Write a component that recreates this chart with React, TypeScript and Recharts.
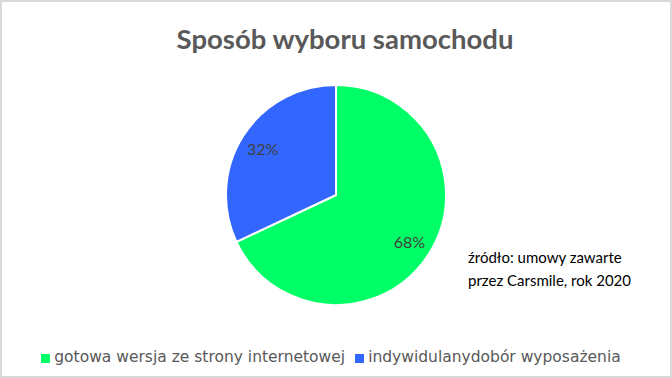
import React from 'react';
import { PieChart, Pie, Cell, Legend } from 'recharts';

const categories = ['gotowa wersja ze strony internetowej', 'indywidulanydobór wyposażenia'];
const shares = [68, 32];
const colors = ['#00FF66', '#3366FF'];

const data = categories.map((name, i) => ({ name, value: shares[i] }));

const RAD = Math.PI / 180;

const renderLabel = (props: any) => {
  const { cx, cy, midAngle, outerRadius, value } = props;
  const r = outerRadius * 0.79;
  const x = cx + r * Math.cos(-midAngle * RAD);
  const y = cy + r * Math.sin(-midAngle * RAD);
  return (
    <text
      x={x}
      y={y}
      fill='#404040'
      fontSize={16}
      fontFamily='Lato, sans-serif'
      textAnchor='middle'
      dominantBaseline='central'
    >
      {`${value}%`}
    </text>
  );
};

const App: React.FC = () => {
  return (
    <div
      style={{
        position: 'absolute',
        left: 0,
        top: 0,
        width: 672,
        height: 378,
        boxSizing: 'border-box',
        border: '2px solid #d9d9d9',
        background: '#ffffff',
      }}
    >
      <div
        style={{
          position: 'absolute',
          left: 9,
          top: 20,
          width: 668,
          textAlign: 'center',
          fontFamily: 'Lato, sans-serif',
          fontWeight: 700,
          fontSize: 27.5,
          color: '#595959',
          lineHeight: '34px',
        }}
      >
        Sposób wyboru samochodu
      </div>
      <div
        style={{
          position: 'absolute',
          left: 466,
          top: 244,
          fontFamily: 'Lato, sans-serif',
          fontSize: 15,
          color: '#000000',
          lineHeight: '23px',
        }}
      >
        źródło: umowy zawarte
        <br />
        przez Carsmile, rok 2020
      </div>
      <div style={{ position: 'absolute', left: -2, top: -2 }}>
        <PieChart width={672} height={378} margin={{ top: 0, right: 0, bottom: 0, left: 0 }}>
          <Pie
            data={data}
            dataKey='value'
            nameKey='name'
            cx={336}
            cy={195}
            outerRadius={110}
            startAngle={90}
            endAngle={-270}
            stroke='#ffffff'
            strokeWidth={2}
            label={renderLabel}
            labelLine={false}
            isAnimationActive={false}
          >
            {data.map((d, i) => (
              <Cell key={d.name} fill={colors[i]} />
            ))}
          </Pie>
          <Legend
            layout='horizontal'
            align='center'
            verticalAlign='bottom'
            iconType='square'
            iconSize={9}
            wrapperStyle={{ bottom: 12, left: 0, width: 672 }}
            formatter={(value: string) => (
              <span
                style={{
                  color: '#595959',
                  fontFamily: '"DejaVu Sans", sans-serif',
                  fontSize: 15.5,
                }}
              >
                {value}
              </span>
            )}
          />
        </PieChart>
      </div>
    </div>
  );
};

export default App;
